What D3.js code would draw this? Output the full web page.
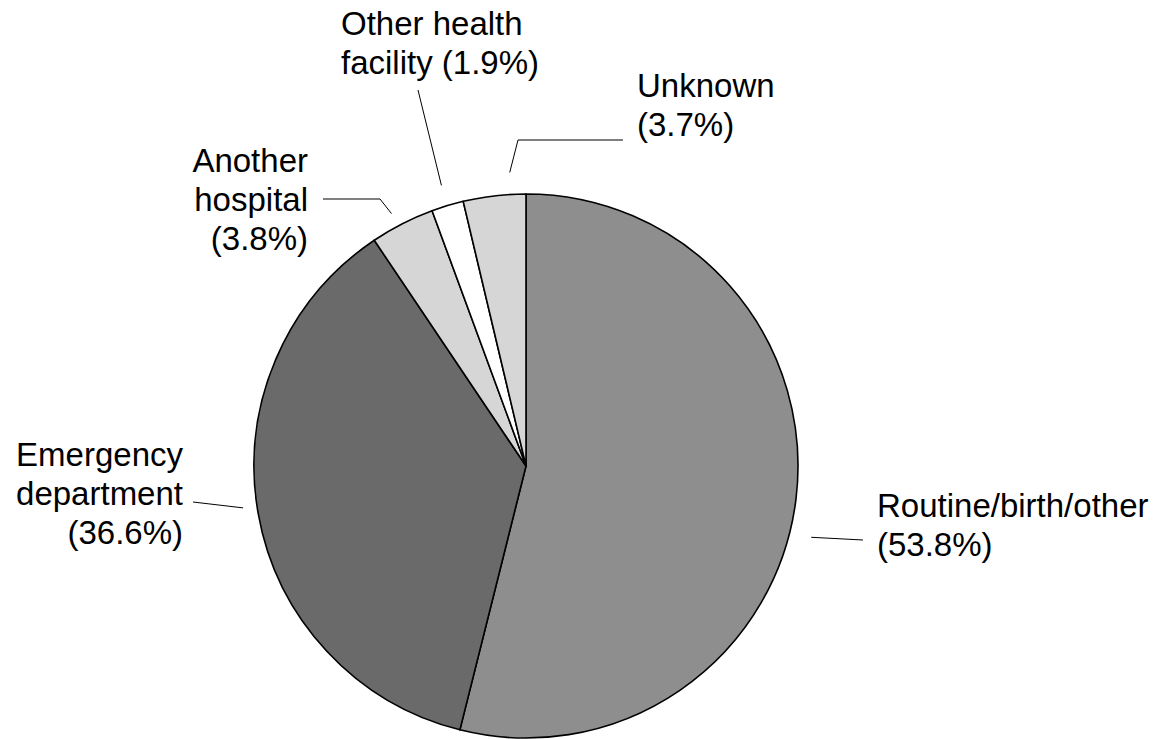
<!DOCTYPE html>
<html lang="en">
<head>
  <meta charset="UTF-8" />
  <title>Source of admission</title>
  <script src="https://d3js.org/d3.v7.min.js"></script>
  <style>
    body { margin: 0; background: #fff; }
    .label { font-family: "Liberation Sans", Arial, sans-serif; font-size: 33px; fill: #000; }
    .leader { fill: none; stroke: #000; stroke-width: 1; }
  </style>
</head>
<body>
  <div id="chart"></div>
  <script>
    // data
    const categories = ["Routine/birth/other", "Emergency department", "Another hospital", "Other health facility", "Unknown"];
    const percents = [53.8, 36.6, 3.8, 1.9, 3.7];
    const labelLines = [
      ["Routine/birth/other", "(53.8%)"],
      ["Emergency", "department", "(36.6%)"],
      ["Another", "hospital", "(3.8%)"],
      ["Other health", "facility (1.9%)"],
      ["Unknown", "(3.7%)"]
    ];
    const fills = ["#8e8e8e", "#6a6a6a", "#d6d6d6", "#ffffff", "#d6d6d6"];

    const width = 1161, height = 739;
    const cx = 526, cy = 466, radius = 272;
    const lineH = 39;

    // label layout: text anchor, leader start tweak (deg / radius), leader elbow/end
    const layout = [
      { x: 877, y: 517, anchor: "start", shift: 7,   r: 294, leader: [[863, 540]] },
      { x: 183, y: 466, anchor: "end",   shift: 1.5, r: 286, leader: [[193, 502]] },
      { x: 308, y: 172, anchor: "end",   shift: -1,  r: 286, leader: [[380, 199], [323, 199]] },
      { x: 341, y: 35,  anchor: "start", shift: 0,   r: 293, leader: [[418, 90]] },
      { x: 637, y: 97,  anchor: "start", shift: 3.5, r: 294, leader: [[518, 140], [623, 140]] }
    ];

    const svg = d3.select("#chart").append("svg")
      .attr("width", width)
      .attr("height", height);

    const g = svg.append("g").attr("transform", `translate(${cx},${cy})`);

    const pie = d3.pie().sort(null).value(d => d);
    const arcs = pie(percents);
    const arc = d3.arc().innerRadius(0).outerRadius(radius);

    g.selectAll("path.slice")
      .data(arcs)
      .enter()
      .append("path")
      .attr("class", "slice")
      .attr("d", arc)
      .attr("fill", (d, i) => fills[i])
      .attr("stroke", "#000")
      .attr("stroke-width", 1.6)
      .attr("stroke-linejoin", "round");

    // leader lines
    arcs.forEach((d, i) => {
      const L = layout[i];
      const a = (d.startAngle + d.endAngle) / 2 + L.shift * Math.PI / 180;
      const start = [cx + L.r * Math.sin(a), cy - L.r * Math.cos(a)];
      svg.append("path")
        .attr("class", "leader")
        .attr("d", d3.line()([start].concat(L.leader)));
    });

    // labels
    labelLines.forEach((lines, i) => {
      const t = svg.append("text")
        .attr("class", "label")
        .attr("text-anchor", layout[i].anchor);
      lines.forEach((s, j) => {
        t.append("tspan")
          .attr("x", layout[i].x)
          .attr("y", layout[i].y + j * lineH)
          .text(s);
      });
    });
  </script>
</body>
</html>
